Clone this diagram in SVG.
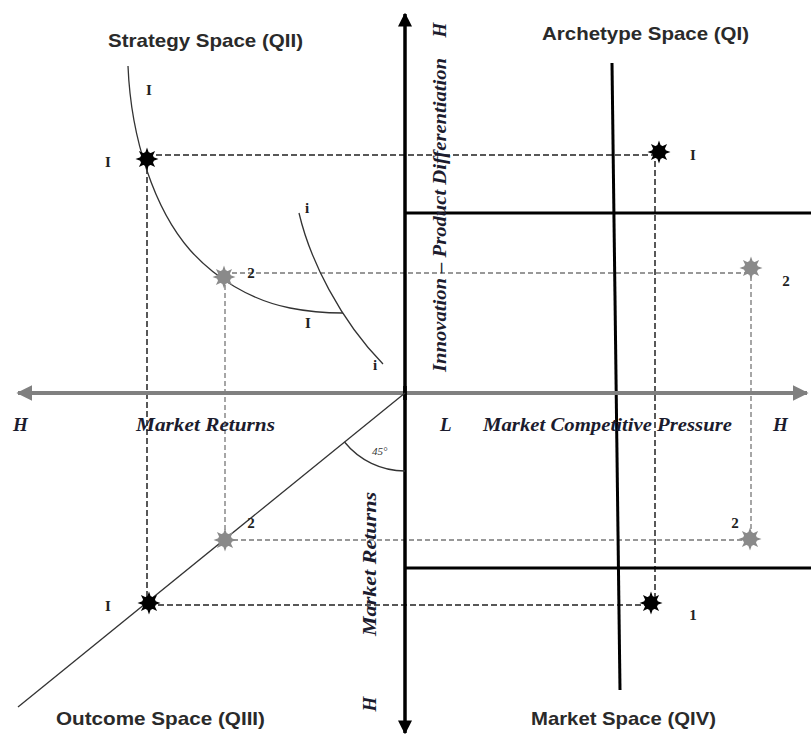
<svg xmlns="http://www.w3.org/2000/svg" xmlns:xlink="http://www.w3.org/1999/xlink" width="811" height="737" viewBox="0 0 811 737">
<style>
.title{font-family:"Liberation Sans",Arial,sans-serif;font-weight:bold;font-size:19px;fill:#2a2a2a}
.ax{font-family:"Liberation Serif","Times New Roman",serif;font-weight:bold;font-style:italic;font-size:19px;fill:#1c1c2e}
.num{font-family:"Liberation Serif","Times New Roman",serif;font-weight:bold;font-size:15px;fill:#222}
.deg{font-family:"Liberation Serif","Times New Roman",serif;font-style:italic;font-size:11px;fill:#333}
.dk{stroke:#222;stroke-width:1.5;stroke-dasharray:6 3;fill:none}
.gy{stroke:#777;stroke-width:1.3;stroke-dasharray:5 3;fill:none}
.thick{stroke:#000;stroke-width:3;fill:none}
.thin{stroke:#333;stroke-width:1.3;fill:none}
.sblack{fill:#000}
.sgray{fill:#8a8a8a}
</style>
<defs>
<g id="star">
<polygon points="11.5,0 5.3,2.2 8.1,8.1 2.2,5.3 0,11.5 -2.2,5.3 -8.1,8.1 -5.3,2.2 -11.5,0 -5.3,-2.2 -8.1,-8.1 -2.2,-5.3 0,-11.5 2.2,-5.3 8.1,-8.1 5.3,-2.2"/>
<circle r="7"/>
</g>
<marker id="ahK" viewBox="0 0 10 10" refX="9" refY="5" markerWidth="4" markerHeight="4" orient="auto" markerUnits="strokeWidth">
<path d="M0,0 L10,5 L0,10 Z" fill="#000"/>
</marker>
<marker id="ahG" viewBox="0 0 10 10" refX="9" refY="5" markerWidth="4" markerHeight="4" orient="auto" markerUnits="strokeWidth">
<path d="M0,0 L10,5 L0,10 Z" fill="#808080"/>
</marker>
</defs>
<rect width="811" height="737" fill="#fff"/>

<g id="connectors">
<line class="dk" x1="147" y1="155" x2="659" y2="155"/>
<line class="dk" x1="147" y1="159" x2="147" y2="603"/>
<line class="dk" x1="655" y1="152" x2="655" y2="603"/>
<line class="dk" x1="149" y1="605" x2="651" y2="605"/>
<line class="gy" x1="224" y1="273" x2="751" y2="273"/>
<line class="gy" x1="225" y1="277" x2="225" y2="540"/>
<line class="gy" x1="751" y1="268" x2="751" y2="539"/>
<line class="gy" x1="225" y1="540" x2="750" y2="540"/>
</g>

<g id="quadrant-lines">
<line class="thick" x1="405" y1="213" x2="811" y2="213"/>
<line class="thick" x1="405" y1="568" x2="811" y2="568"/>
<line class="thick" x1="612" y1="63" x2="620" y2="690"/>
</g>

<g id="axes">
<line x1="405" y1="393" x2="18" y2="393" stroke="#808080" stroke-width="4" marker-end="url(#ahG)"/>
<line x1="405" y1="393" x2="807" y2="393" stroke="#808080" stroke-width="4" marker-end="url(#ahG)"/>
<line x1="405" y1="400" x2="405" y2="14" stroke="#000" stroke-width="3.5" marker-end="url(#ahK)"/>
<line x1="405" y1="386" x2="405" y2="733" stroke="#000" stroke-width="3.5" marker-end="url(#ahK)"/>
</g>

<g id="curves">
<path class="thin" d="M128,66 C131,140 155,210 190,250 C215,278 250,300 290,308 C310,312 325,313 343,313"/>
<path class="thin" d="M299,213 C310,260 340,320 383,364"/>
<line class="thin" x1="405" y1="393" x2="18" y2="707"/>
<path class="thin" d="M344.5,442 A78,78 0 0 0 405,471"/>
</g>

<g id="stars">
<use xlink:href="#star" href="#star" class="sblack" x="147" y="159"/>
<use xlink:href="#star" href="#star" class="sblack" x="659" y="152"/>
<use xlink:href="#star" href="#star" class="sblack" x="149" y="603"/>
<use xlink:href="#star" href="#star" class="sblack" x="651" y="603"/>
<use xlink:href="#star" href="#star" class="sgray" x="224" y="277"/>
<use xlink:href="#star" href="#star" class="sgray" x="751" y="268"/>
<use xlink:href="#star" href="#star" class="sgray" x="225" y="540"/>
<use xlink:href="#star" href="#star" class="sgray" x="750" y="539"/>
</g>

<g id="point-labels">
<text class="num" x="149" y="95" text-anchor="middle">I</text>
<text class="num" x="108" y="167" text-anchor="middle">I</text>
<text class="num" x="308" y="328" text-anchor="middle">I</text>
<text class="num" x="307" y="213" text-anchor="middle">i</text>
<text class="num" x="375" y="370" text-anchor="middle">i</text>
<text class="num" x="693" y="160" text-anchor="middle">I</text>
<text class="num" x="251" y="278" text-anchor="middle">2</text>
<text class="num" x="786" y="286" text-anchor="middle">2</text>
<text class="num" x="251" y="528" text-anchor="middle">2</text>
<text class="num" x="735" y="528" text-anchor="middle">2</text>
<text class="num" x="108" y="611" text-anchor="middle">I</text>
<text class="num" x="693" y="620" text-anchor="middle">1</text>
<text class="deg" x="372" y="455">45°</text>
</g>

<g id="titles">
<text class="title" x="108" y="47" textLength="195" lengthAdjust="spacingAndGlyphs">Strategy Space (QII)</text>
<text class="title" x="542" y="40" textLength="207" lengthAdjust="spacingAndGlyphs">Archetype Space (QI)</text>
<text class="title" x="56" y="725" textLength="209" lengthAdjust="spacingAndGlyphs">Outcome Space (QIII)</text>
<text class="title" x="531" y="725" textLength="185" lengthAdjust="spacingAndGlyphs">Market Space (QIV)</text>
</g>

<g id="axis-labels">
<text class="ax" x="13" y="431">H</text>
<text class="ax" x="136" y="431" textLength="139" lengthAdjust="spacingAndGlyphs">Market  Returns</text>
<text class="ax" x="440" y="431">L</text>
<text class="ax" x="483" y="431" textLength="249" lengthAdjust="spacingAndGlyphs">Market Competitive Pressure</text>
<text class="ax" x="773" y="431">H</text>
<text class="ax" transform="translate(446,215) rotate(-90)" text-anchor="middle" textLength="314" lengthAdjust="spacingAndGlyphs">Innovation – Product Differentiation</text>
<text class="ax" transform="translate(446,30) rotate(-90)" text-anchor="middle">H</text>
<text class="ax" transform="translate(376,564) rotate(-90)" text-anchor="middle" textLength="144" lengthAdjust="spacingAndGlyphs">Market  Returns</text>
<text class="ax" transform="translate(376,704) rotate(-90)" text-anchor="middle">H</text>
</g>
</svg>
